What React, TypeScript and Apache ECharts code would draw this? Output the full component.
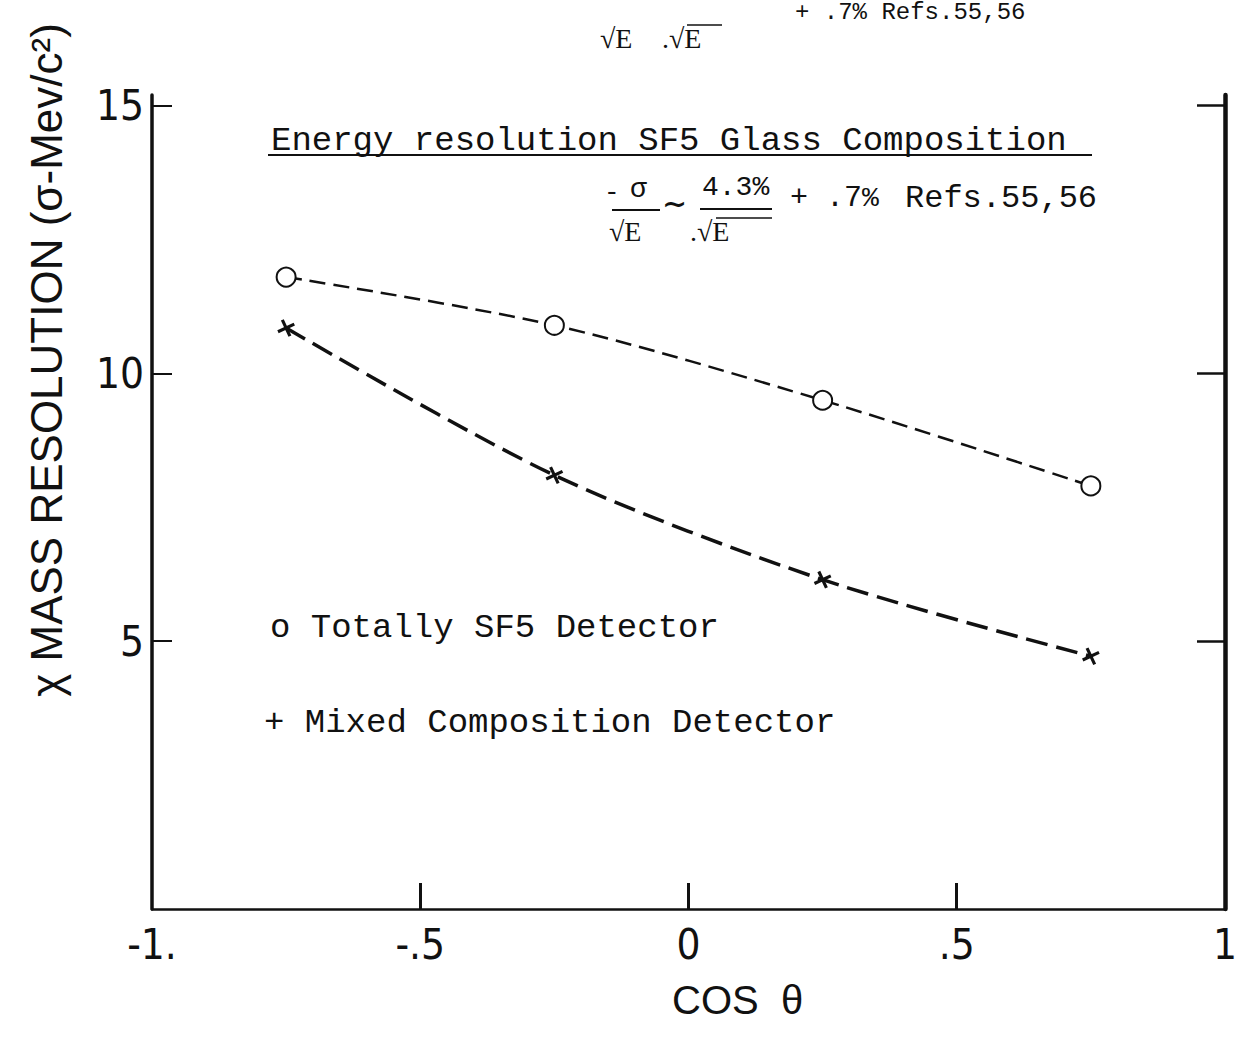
import React, { useEffect, useRef } from "react";
import * as echarts from "echarts";

const cosTheta = [-0.75, -0.25, 0.25, 0.75];
const sf5Values = [11.8, 10.9, 9.5, 7.9];
const mixedValues = [10.85, 8.1, 6.15, 4.72];
const yTickValues = [5, 10, 15];
const xTickValues = [-1, -0.5, 0, 0.5, 1];
const xTickLabels: Record<string, string> = { "-1": "-1.", "-0.5": "-.5", "0": "0", "0.5": ".5", "1": "1" };

const MONO = "'Liberation Mono', 'DejaVu Sans Mono', monospace";
const SERIF = "'Liberation Serif', 'DejaVu Serif', serif";
const NARROW = "'Liberation Sans Narrow', 'DejaVu Sans Condensed', 'Liberation Sans', sans-serif";
const SANS = "'Liberation Sans', 'DejaVu Sans', sans-serif";
const INK = "#111";

function txt(text: string, x: number, y: number, fontSize: number, fontFamily: string, extra: any = {}) {
  return {
    type: "text",
    x,
    y,
    silent: true,
    ...extra,
    style: { text, fontSize, fontFamily, fill: INK, align: "left", verticalAlign: "middle", ...(extra.style || {}) },
  };
}
function seg(x1: number, y1: number, x2: number, y2: number, w = 2) {
  return { type: "line", silent: true, shape: { x1, y1, x2, y2 }, style: { stroke: INK, lineWidth: w } };
}

export default function App() {
  const ref = useRef<HTMLDivElement>(null);
  useEffect(() => {
    document.body.style.margin = "0";
    if (!ref.current) return;
    const chart = echarts.init(ref.current, null, { renderer: "svg" });
    const sf5 = cosTheta.map((c, i) => [c, sf5Values[i]]);
    const mixed = cosTheta.map((c, i) => [c, mixedValues[i]]);
    const plus = "path://M-1.4,-8 h2.8 v16 h-2.8 z M-8,-1.4 h16 v2.8 h-16 z";
    chart.setOption({
      animation: false,
      backgroundColor: "#fff",
      grid: { left: 152, right: 3, top: 95, bottom: 134 },
      xAxis: {
        type: "value",
        min: -1,
        max: 1,
        interval: 0.5,
        axisLine: { show: true, onZero: false, lineStyle: { color: INK, width: 2.5 } },
        axisTick: { show: true, inside: true, length: 26, lineStyle: { color: INK, width: 3 }, customValues: [-0.5, 0, 0.5] },
        splitLine: { show: false },
        axisLabel: {
          customValues: xTickValues,
          margin: 14,
          color: INK,
          fontSize: 42,
          fontFamily: NARROW,
          formatter: (v: number) => xTickLabels[String(v)] ?? "",
        },
      },
      yAxis: [
        {
          type: "value",
          min: 0,
          max: 15.2,
          interval: 5,
          axisLine: { show: true, onZero: false, lineStyle: { color: INK, width: 3.5 } },
          axisTick: { show: true, inside: true, length: 20, lineStyle: { color: INK, width: 2 }, customValues: yTickValues },
          splitLine: { show: false },
          axisLabel: {
            customValues: yTickValues,
            margin: 8,
            color: INK,
            fontSize: 42,
            fontFamily: NARROW,
          },
        },
        {
          type: "value",
          position: "right",
          min: 0,
          max: 15.2,
          interval: 5,
          axisLine: { show: true, onZero: false, lineStyle: { color: INK, width: 4.5 } },
          axisTick: { show: true, inside: true, length: 28, lineStyle: { color: INK, width: 2.5 }, customValues: yTickValues },
          splitLine: { show: false },
          axisLabel: { show: false },
        },
      ],
      series: [
        {
          name: "Totally SF5 Detector",
          type: "line",
          data: sf5,
          smooth: 0.3,
          symbol: "emptyCircle",
          symbolSize: 19,
          lineStyle: { color: INK, width: 2.5, type: [16, 8] },
          itemStyle: { color: INK, borderColor: INK, borderWidth: 2.5 },
          z: 3,
        },
        {
          name: "Mixed Composition Detector",
          type: "line",
          data: mixed,
          smooth: 0.3,
          symbol: plus,
          symbolSize: 18,
          symbolRotate: 25,
          lineStyle: { color: INK, width: 3.5, type: [22, 9] },
          itemStyle: { color: INK },
          z: 3,
        },
      ],
      graphic: [
        // copy of the formula at the top edge
        txt("+ .7% Refs.55,56", 795, 12, 24, MONO),
        txt("√E", 600, 38, 28, SERIF),
        txt(".√E", 662, 38, 28, SERIF),
        seg(687, 25, 722, 25, 1.5),
        // y axis name
        txt("χ MASS RESOLUTION (σ-Mev/c²)", 46, 360, 44, SANS, {
          rotation: Math.PI / 2,
          style: { align: "center" },
        }),
        // title annotation
        txt("Energy resolution SF5 Glass Composition", 271, 141, 34, MONO),
        seg(268, 155, 1092, 155, 2),
        // formula
        txt("-", 604, 193, 26, MONO),
        txt("σ", 630, 189, 28, MONO),
        seg(612, 210, 660, 210, 2),
        txt("∼", 662, 203, 30, SERIF, { style: { fontWeight: "bold" } }),
        txt("4.3%", 702, 187, 28, MONO),
        seg(700, 209, 772, 209, 2),
        txt("+", 790, 198, 30, MONO),
        txt(".7", 826, 198, 30, MONO),
        txt("%", 862, 198, 28, MONO),
        txt("Refs.55,56", 905, 198, 32, MONO),
        txt("√E", 609, 231, 28, SERIF),
        txt(".√E", 690, 231, 28, SERIF),
        seg(716, 218, 772, 218, 1.5),
        // legend
        txt("o Totally SF5 Detector", 270, 628, 34, MONO),
        txt("+ Mixed Composition Detector", 264, 723, 34, MONO),
        // x axis name
        txt("COS  θ", 672, 1000, 40, SANS),
      ],
    });
    return () => chart.dispose();
  }, []);
  return <div ref={ref} style={{ width: 1240, height: 1043 }} />;
}
